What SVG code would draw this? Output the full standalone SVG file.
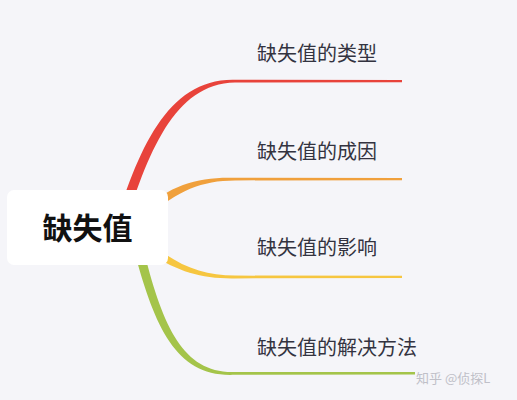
<svg xmlns="http://www.w3.org/2000/svg" width="517" height="400" viewBox="0 0 517 400">
<style>
.lbl{font-family:"Noto Sans CJK SC","Noto Sans",sans-serif;font-size:20px;fill:#333340}
.root{font-family:"Noto Sans CJK SC","Noto Sans",sans-serif;font-size:30px;font-weight:bold;fill:#111}
.wm{font-family:"Noto Sans CJK SC","Noto Sans",sans-serif;font-size:13px;fill:#c0c0c8}
</style>
<rect width="517" height="400" fill="#f5f5f9"/>
<g id="connectors">
<path d="M 112 235 C 138 148, 168 78, 235 79.8 L 402 80 L 402 82.2 L 235 82.6 C 174 84, 148 152, 122 235 Z" fill="#e8433b"/>
<path d="M 140 212 C 172 184, 198 176.8, 235 177.8 L 402 178 L 402 180.2 L 235 180.4 C 202 180.5, 178 190, 146 218 Z" fill="#f0a03c"/>
<path d="M 146 240 C 178 266, 202 275.4, 235 275.6 L 402 275.8 L 402 278 L 235 278.4 C 198 279, 172 270, 140 246 Z" fill="#f6c640"/>
<path d="M 140 235 C 160 320, 180 374, 235 372 L 415 372 L 415 374.4 L 235 374.8 C 172 378, 152 320, 130 235 Z" fill="#a4c44a"/>
</g>
<g id="root">
<rect x="7" y="190" width="161" height="75" rx="7" fill="#ffffff"/>
<text class="root" x="87.5" y="239" text-anchor="middle">缺失值</text>
</g>
<g id="n1"><text class="lbl" x="257" y="61">缺失值的类型</text></g>
<g id="n2"><text class="lbl" x="257" y="159">缺失值的成因</text></g>
<g id="n3"><text class="lbl" x="257" y="255">缺失值的影响</text></g>
<g id="n4"><text class="lbl" x="257" y="355">缺失值的解决方法</text></g>
<text class="wm" x="416" y="383">知乎 @侦探L</text>
</svg>
